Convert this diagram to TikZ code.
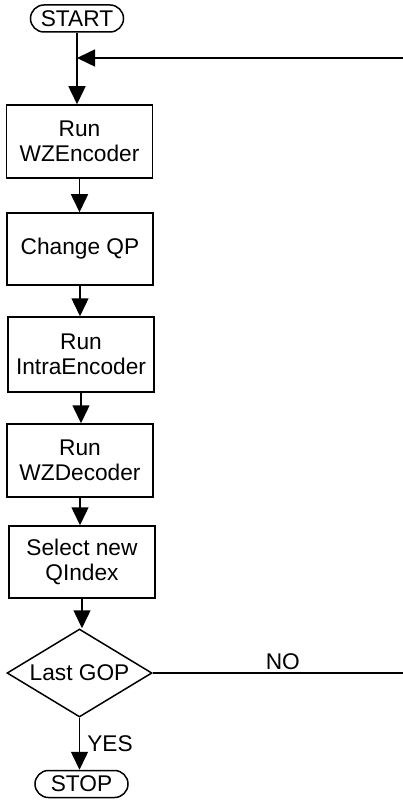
\documentclass[tikz,border=0pt]{standalone}
\usepackage{fontspec}
\setmainfont{Liberation Sans}
\usetikzlibrary{shapes.misc,shapes.geometric,arrows.meta}
\begin{document}
\begin{tikzpicture}[x=1pt,y=-1pt,
  every node/.style={font=\fontsize{22.7}{25}\selectfont, align=center, inner sep=0pt},
  proc/.style={draw, line width=1.5pt, rectangle, minimum width=146pt},
  term/.style={draw, line width=1.5pt, rounded rectangle, minimum width=93pt, minimum height=27pt},
  decision/.style={draw, line width=1.5pt, diamond, minimum width=145pt, minimum height=88pt, aspect=1.65},
  arr/.style={line width=1.5pt, -{Triangle[width=17pt,length=18pt]}},
  ln/.style={line width=1.5pt}]
\useasboundingbox (0,0) rectangle (403,802);
\node[term] (start) at (77,18.5) {START};
\node[proc, minimum height=73pt] (b1) at (79.5,141.5) {Run\\WZEncoder};
\node[proc, minimum height=72pt] (b2) at (80,249) {Change QP};
\node[proc, minimum height=75pt] (b3) at (81,354.5) {Run\\IntraEncoder};
\node[proc, minimum height=73pt] (b4) at (80,460.5) {Run\\WZDecoder};
\node[proc, minimum height=72pt] (b5) at (82,562) {Select new\\QIndex};
\node[decision] (d) at (79.5,673) {Last GOP};
\node[term] (stop) at (81.5,784) {STOP};
\coordinate (fb) at (403,58);
\coordinate (no) at (403,673);
\draw[arr] (start.south) -- (start.south |- b1.north);
\draw[arr] (fb) -- (start.south |- fb);
\draw[arr] (b1.south) -- (b1.south |- b2.north);
\draw[arr] (b2.south) -- (b2.south |- b3.north);
\draw[arr] (b3.south) -- (b3.south |- b4.north);
\draw[arr] (b4.south) -- (b4.south |- b5.north);
\draw[arr] (b5.south) -- (b5.south |- d.north);
\draw[arr] (d.south) -- (d.south |- stop.north) node[midway, right=7pt] {YES};
\draw[ln] (d.east) -- (no) node[pos=0.52, above=3pt] {NO};
\end{tikzpicture}
\end{document}
